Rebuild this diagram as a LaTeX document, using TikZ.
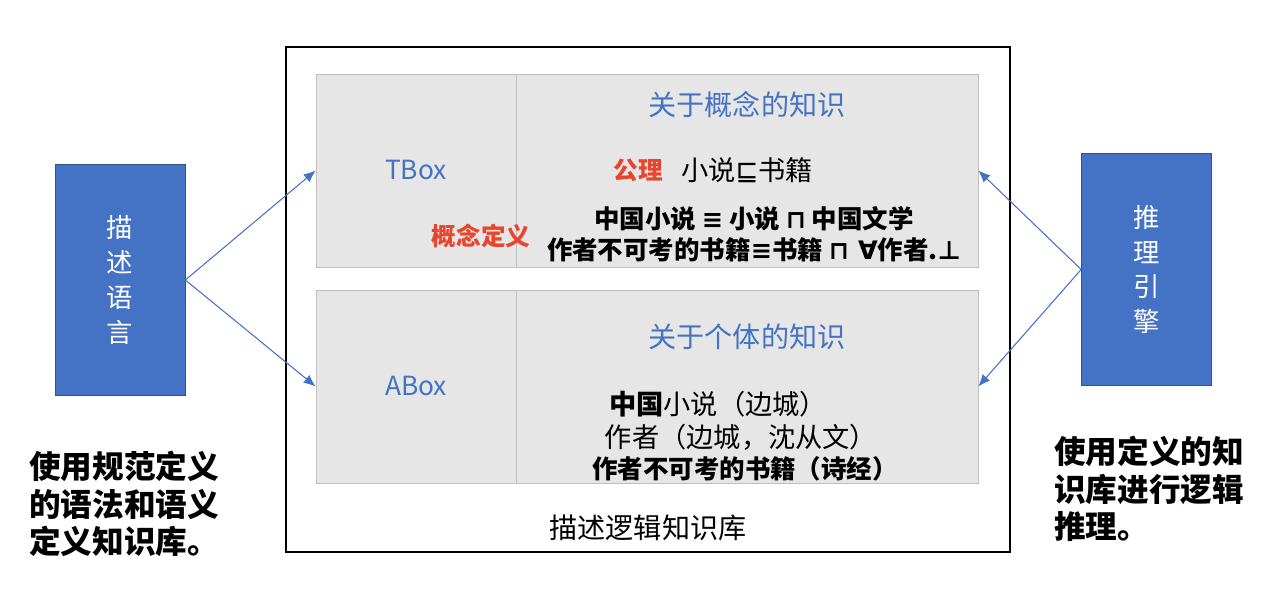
\documentclass[tikz,border=0pt]{standalone}
\usepackage{fontspec}
\setmainfont{Noto Sans CJK SC}
\newfontfamily\symfont{DejaVu Sans}
\usetikzlibrary{arrows.meta}
\definecolor{boxblue}{HTML}{4472C4}
\definecolor{boxedge}{HTML}{2F528F}
\definecolor{panelgray}{HTML}{E7E6E6}
\definecolor{paneledge}{HTML}{BFBFBF}
\definecolor{keyred}{HTML}{E8452C}
\tikzstyle{engine} = [rectangle, minimum width=2.6cm, minimum height=4.63cm, align=center, draw=boxedge, fill=boxblue, text=white, font=\fontsize{15pt}{19.8pt}\selectfont]
\tikzstyle{frame} = [rectangle, minimum width=14.48cm, minimum height=10.1cm, draw=black, line width=0.9pt]
\tikzstyle{panelname} = [rectangle, minimum width=4cm, minimum height=3.86cm, draw=paneledge, fill=panelgray, text=boxblue, font=\fontsize{15pt}{18pt}\selectfont]
\tikzstyle{panelbody} = [rectangle, minimum width=9.24cm, minimum height=3.86cm, draw=paneledge, fill=panelgray]
\tikzstyle{heading} = [text=boxblue, font=\fontsize{16pt}{19pt}\selectfont]
\tikzstyle{keyword} = [text=keyred, font=\fontsize{14pt}{17pt}\selectfont\bfseries]
\tikzstyle{fact} = [font=\fontsize{15.5pt}{18pt}\selectfont]
\tikzstyle{boldfact} = [align=center, font=\fontsize{14.5pt}{18pt}\selectfont\bfseries]
\tikzstyle{note} = [anchor=north west, align=left, inner sep=0pt, font=\fontsize{18pt}{21.3pt}\selectfont\bfseries]
\tikzstyle{arrow} = [draw=boxblue, line width=0.6pt, -{Latex[length=2.4mm, width=2mm]}]

\begin{document}
\begin{tikzpicture}[x=0.02cm, y=-0.02cm]
\useasboundingbox (0,0) rectangle (1276,596);
%%%%% ADDING MAIN BLOCKS
\node (kb) [frame] at (648,299.5) {};
\node (kbname) [fact, font=\fontsize{16pt}{19pt}\selectfont] at (648,528) {描述逻辑知识库};

\node (lang) [engine] at (120,280) {描\\述\\语\\言};
\node (reason) [engine] at (1146.5,269.5) {推\\理\\引\\擎};

% TBox panel, name on the left and content on the right
\node (tboxl) [panelname] at (416,170.5) {TBox};
\node (tboxr) [panelbody] at (747,170.5) {};
\node (tboxhead) [heading] at (747,105) {关于概念的知识};
\node (axiom) [keyword] at (638,170) {公理};
\node (axiomtxt) [fact] at (747,170) {小说{\symfont ⊑}书籍};
\node (concdef) [keyword] at (481,236) {概念定义};
\node (conctxt) [boldfact] at (754,234) {中国小说 {\symfont ≡} 小说 {\symfont ⊓} 中国文学\\作者不可考的书籍{\symfont ≡}书籍 {\symfont ⊓ ∀}作者.{\symfont ⊥}};

% ABox panel
\node (aboxl) [panelname] at (416,386.5) {ABox};
\node (aboxr) [panelbody] at (747,386.5) {};
\node (aboxhead) [heading] at (747,337) {关于个体的知识};
\node (fact1) [fact] at (718,404) {{\bfseries 中国}小说（边城）};
\node (fact2) [fact] at (741,437) {作者（边城，沈从文）};
\node (fact3) [boldfact] at (745,469) {作者不可考的书籍（诗经）};

% notes under the blue blocks
\node (lnote) [note] at (29,451) {使用规范定义\\的语法和语义\\定义知识库。};
\node (rnote) [note] at (1054,436) {使用定义的知\\识库进行逻辑\\推理。};

%%%%% ADDING ARROWS
\draw [arrow] (lang.east) -- (tboxl.west);
\draw [arrow] (lang.east) -- (aboxl.west);
\draw [arrow] (reason.west) -- (tboxr.east);
\draw [arrow] (reason.west) -- (aboxr.east);
\end{tikzpicture}
\end{document}
